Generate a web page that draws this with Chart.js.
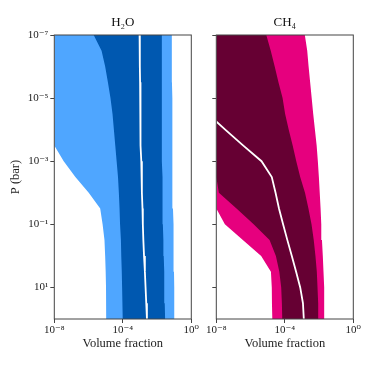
<!DOCTYPE html>
<html>
<head>
<meta charset="utf-8">
<script src="https://cdn.jsdelivr.net/npm/chart.js@4.4.1/dist/chart.umd.min.js"></script>
<style>
  body { margin: 0; background: #fff; }
  #wrap { position: relative; width: 374px; height: 374px; }
  canvas { position: absolute; top: 0; }
  #h2oChart { left: 0; }
  #ch4Chart { left: 196px; }
</style>
</head>
<body>
<div id="wrap">
  <canvas id="h2oChart" width="200" height="374"></canvas>
  <canvas id="ch4Chart" width="178" height="374"></canvas>
</div>
<script>
// pressure levels, log10(bar), top of the atmosphere first
const pressureExp = [-7, -6.5, -6, -5.5, -5, -4.5, -4, -3.5, -3, -2.5, -2, -1.5, -1, -0.5, 0, 0.5, 1, 1.5, 2];

// H2O profile, log10 volume fraction at each pressure level
const h2oOuterLow = [-8, -8, -8, -8, -8, -8, -8, -8, -7.45, -6.77, -5.99, -5.32, -5.18, -5.07, -5.03, -5.00, -4.98, -4.97, -4.97];
const h2oOuterHigh = [-1.14, -1.14, -1.13, -1.13, -1.12, -1.12, -1.11, -1.11, -1.10, -1.10, -1.08, -1.07, -1.05, -1.04, -1.02, -1.01, -1.00, -0.99, -0.98];
const h2oInnerLow = [-5.70, -5.24, -5.03, -4.87, -4.72, -4.60, -4.52, -4.44, -4.36, -4.28, -4.23, -4.19, -4.16, -4.11, -4.09, -4.06, -4.04, -4.01, -4.00];
const h2oInnerHigh = [-1.72, -1.72, -1.72, -1.72, -1.72, -1.72, -1.72, -1.72, -1.72, -1.69, -1.68, -1.67, -1.66, -1.63, -1.61, -1.59, -1.57, -1.55, -1.53];
const h2oMedian = [-3.02, -3.01, -3.00, -2.99, -2.98, -2.97, -2.96, -2.95, -2.92, -2.89, -2.88, -2.85, -2.83, -2.80, -2.76, -2.71, -2.67, -2.63, -2.59];

// CH4 profile, same levels (null = not drawn)
const ch4OuterLow = [-8, -8, -8, -8, -8, -8, -8, -8, -8, -8, -8, -8, -7.50, -6.45, -5.38, -4.81, -4.76, -4.75, -4.73];
const ch4OuterHigh = [-2.83, -2.69, -2.61, -2.52, -2.43, -2.34, -2.24, -2.14, -2.07, -2.01, -1.96, -1.91, -1.87, -1.83, -1.78, -1.74, -1.71, -1.69, -1.68];
const ch4InnerLow = [-8, -8, -8, -8, -8, -8, -8, -8, -8, -8, -7.85, -6.82, -5.82, -4.89, -4.52, -4.32, -4.21, -4.17, -4.15];
const ch4InnerHigh = [-5.08, -4.82, -4.59, -4.37, -4.13, -3.98, -3.77, -3.54, -3.33, -3.10, -2.82, -2.62, -2.44, -2.31, -2.21, -2.13, -2.09, -2.05, -2.01];
const ch4Median = [null, null, null, null, null, -8.48, -7.48, -6.44, -5.36, -4.76, -4.54, -4.34, -4.10, -3.85, -3.59, -3.34, -3.10, -2.94, -2.89];

const xTickValues = [1e-8, 1e-4, 1];
const xTickLabels = ['10⁻⁸', '10⁻⁴', '10⁰'];
const yTickValues = [1e-7, 1e-5, 1e-3, 1e-1, 1e1];
const yTickLabels = ['10⁻⁷', '10⁻⁵', '10⁻³', '10⁻¹', '10¹'];

const serif = "'Liberation Serif', 'DejaVu Serif', serif";
const axisColor = '#444';

// turn log10 values into {x, y} points for the line datasets
function toPoints(values) {
    const points = [];
    values.forEach((v, i) => {
        if (v === null) return;
        points.push({ x: Math.pow(10, v), y: Math.pow(10, pressureExp[i]) });
    });
    return points;
}

// box round the plot area, like matplotlib spines
const framePlugin = {
    id: 'frame',
    afterDatasetsDraw(chart) {
        const { ctx, chartArea } = chart;
        ctx.save();
        ctx.strokeStyle = axisColor;
        ctx.lineWidth = 1;
        ctx.strokeRect(chartArea.left, chartArea.top, chartArea.right - chartArea.left, chartArea.bottom - chartArea.top);
        ctx.restore();
    }
};

function band(values, color, fill, order) {
    return {
        data: toPoints(values),
        borderWidth: 0,
        borderColor: color,
        backgroundColor: color,
        pointRadius: 0,
        fill: fill,
        order: order
    };
}

function createPanel(canvasId, title, series, colors, opts) {
    new Chart(canvasId, {
        type: 'line',
        data: {
            datasets: [
                {
                    data: toPoints(series.median),
                    borderColor: '#ffffff',
                    borderWidth: 1.8,
                    pointRadius: 0,
                    fill: false,
                    order: 0
                },
                band(series.innerLow, colors.dark, '+1', 1),
                band(series.innerHigh, colors.dark, false, 1),
                band(series.outerLow, colors.light, '+1', 2),
                band(series.outerHigh, colors.light, false, 2)
            ]
        },
        options: {
            indexAxis: 'y',
            responsive: false,
            animation: false,
            devicePixelRatio: 1,
            layout: { padding: { top: 0, left: 0, bottom: 0, right: opts.rightPad } },
            plugins: {
                legend: { display: false },
                tooltip: { enabled: false },
                title: {
                    display: true,
                    fullSize: false,
                    text: title,
                    color: '#111',
                    font: { family: serif, size: 13, weight: 'normal' },
                    padding: { top: 15, bottom: 4.4 }
                }
            },
            scales: {
                x: {
                    type: 'logarithmic',
                    min: 1e-8,
                    max: 1,
                    afterBuildTicks: s => { s.ticks = xTickValues.map(v => ({ value: v })); },
                    afterFit: s => { s.height = 55; },
                    grid: { drawOnChartArea: false, tickLength: 4, color: axisColor },
                    border: { display: false },
                    ticks: {
                        callback: (v, i) => xTickLabels[i],
                        color: '#222',
                        font: { family: serif, size: 11 },
                        padding: 1,
                        maxRotation: 0,
                        autoSkip: false
                    },
                    title: {
                        display: true,
                        text: 'Volume fraction',
                        color: '#222',
                        font: { family: serif, size: 12.5 },
                        padding: { top: 0, bottom: 23 }
                    }
                },
                y: {
                    type: 'logarithmic',
                    min: 1e-7,
                    max: 100,
                    reverse: true,
                    afterBuildTicks: s => { s.ticks = yTickValues.map(v => ({ value: v })); },
                    afterFit: s => { s.width = opts.yWidth; },
                    grid: { drawOnChartArea: false, tickLength: 4, color: axisColor },
                    border: { display: false },
                    ticks: {
                        callback: (v, i) => opts.yLabels ? yTickLabels[i] : '',
                        color: '#222',
                        font: { family: serif, size: 11 },
                        padding: 2,
                        autoSkip: false
                    },
                    title: {
                        display: opts.yLabels,
                        text: 'P (bar)',
                        color: '#222',
                        font: { family: serif, size: 12.5 },
                        padding: { top: 8, bottom: 0 }
                    }
                }
            }
        },
        plugins: [framePlugin]
    });
}

createPanel('h2oChart', 'H₂O',
    { outerLow: h2oOuterLow, outerHigh: h2oOuterHigh, innerLow: h2oInnerLow, innerHigh: h2oInnerHigh, median: h2oMedian },
    { light: '#4fa6ff', dark: '#0058b0' },
    { yLabels: true, yWidth: 54.3, rightPad: 8.7 });

createPanel('ch4Chart', 'CH₄',
    { outerLow: ch4OuterLow, outerHigh: ch4OuterHigh, innerLow: ch4InnerLow, innerHigh: ch4InnerHigh, median: ch4Median },
    { light: '#e6007e', dark: '#660033' },
    { yLabels: false, yWidth: 20.3, rightPad: 20.7 });
</script>
</body>
</html>
